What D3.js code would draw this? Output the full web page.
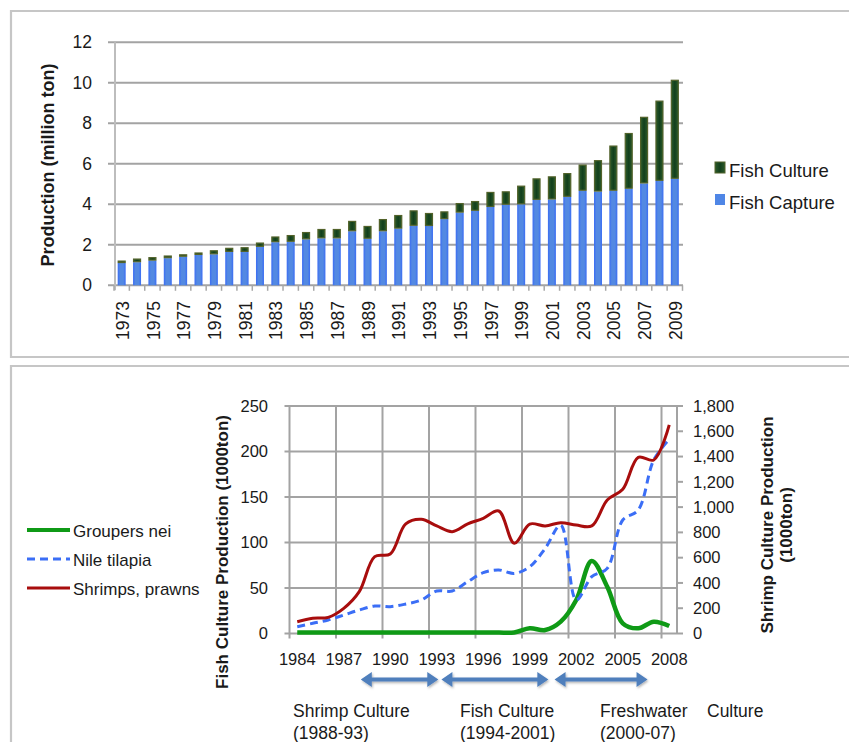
<!DOCTYPE html>
<html>
<head>
<meta charset="utf-8">
<script src="https://cdn.jsdelivr.net/npm/d3@7"></script>
<style>
  html, body { margin: 0; padding: 0; background: #fff; }
  svg { display: block; font-family: "Liberation Sans", Arial, Helvetica, sans-serif; }
</style>
</head>
<body>
<svg id="chart" width="849" height="742"></svg>
<script>
// ---- Panel 1: total fishery production (million ton) ----
const prodYears = [1973, 1974, 1975, 1976, 1977, 1978, 1979, 1980, 1981, 1982,
  1983, 1984, 1985, 1986, 1987, 1988, 1989, 1990, 1991, 1992, 1993, 1994, 1995,
  1996, 1997, 1998, 1999, 2000, 2001, 2002, 2003, 2004, 2005, 2006, 2007, 2008, 2009];
const captureMt = [1.10, 1.14, 1.22, 1.34, 1.41, 1.50, 1.53, 1.65, 1.65, 1.90,
  2.13, 2.15, 2.27, 2.32, 2.32, 2.67, 2.30, 2.67, 2.80, 2.94, 2.93, 3.27, 3.59,
  3.68, 3.87, 3.98, 4.00, 4.22, 4.24, 4.37, 4.67, 4.63, 4.67, 4.77, 5.03, 5.16, 5.26];
const cultureMt = [0.12, 0.18, 0.17, 0.13, 0.12, 0.12, 0.20, 0.20, 0.23, 0.21,
  0.28, 0.33, 0.36, 0.46, 0.46, 0.51, 0.63, 0.60, 0.67, 0.76, 0.64, 0.38, 0.47,
  0.48, 0.74, 0.66, 0.92, 1.06, 1.14, 1.17, 1.29, 1.55, 2.23, 2.75, 3.29, 3.96, 4.89];
const prodTicks = [0, 2, 4, 6, 8, 10, 12];

// ---- Panel 2: aquaculture production by species (1000 ton) ----
const cultYears = [1984, 1985, 1986, 1987, 1988, 1989, 1990, 1991, 1992, 1993,
  1994, 1995, 1996, 1997, 1998, 1999, 2000, 2001, 2002, 2003, 2004, 2005, 2006, 2007, 2008];
const groupers = [1, 1, 1, 1, 1, 1, 1, 1, 1, 1, 1, 1, 1, 1, 1.2, 5.7, 3.8, 13, 36.8,
  79.7, 51.4, 11.2, 5.7, 13, 8.2];
const tilapia = [7.5, 11.2, 14.8, 20.3, 25.8, 30.2, 29.5, 32.4, 36.8, 46.7, 46.7, 57,
  66.8, 69.8, 66, 73.4, 93.6, 119, 36.8, 62.4, 71.6, 124.7, 135.7, 190.7, 213.4];
const shrimps = [93, 120, 128, 199, 331, 608, 629, 867, 904, 851, 806, 867, 911, 969,
  714, 866, 851, 877, 858, 851, 1056, 1141, 1394, 1373, 1650];
const leftTicks = [0, 50, 100, 150, 200, 250];
const rightTicks = [0, 200, 400, 600, 800, 1000, 1200, 1400, 1600, 1800];
const labelYears = [1984, 1987, 1990, 1993, 1996, 1999, 2002, 2005, 2008];
const periodNames = ["Shrimp Culture", "Fish Culture", "Freshwater"];
const periodRanges = ["(1988-93)", "(1994-2001)", "(2000-07)"];
const periodFrom = [1988.1, 1993.3, 2000.6];
const periodTo = [1993.1, 2000.2, 2006.6];

const svg = d3.select("#chart");
const defs = svg.append("defs");
const txt = "#1a1a1a";
const gridCol = "#a3a3a3";

// bar fills
const gBlue = defs.append("linearGradient").attr("id", "capFill")
  .attr("x1", "0").attr("x2", "1").attr("y1", "0").attr("y2", "0");
[["0%", "#3a6cf4"], ["30%", "#5389e2"], ["70%", "#5389e2"], ["100%", "#3a6cf4"]]
  .forEach(([o, c]) => gBlue.append("stop").attr("offset", o).attr("stop-color", c));
const gGreen = defs.append("linearGradient").attr("id", "culFill")
  .attr("x1", "0").attr("x2", "1").attr("y1", "0").attr("y2", "0");
[["0%", "#2c5a2a"], ["50%", "#123f1c"], ["100%", "#2c5a2a"]]
  .forEach(([o, c]) => gGreen.append("stop").attr("offset", o).attr("stop-color", c));
const shadow = defs.append("filter").attr("id", "soft").attr("x", "-20%").attr("y", "-50%")
  .attr("width", "140%").attr("height", "200%");
shadow.append("feDropShadow").attr("dx", 1).attr("dy", 1.5).attr("stdDeviation", 1.2)
  .attr("flood-color", "#000").attr("flood-opacity", 0.3);

// panel frames
svg.append("path").attr("d", "M860,11 H11 V357 H860")
  .attr("fill", "none").attr("stroke", "#c6c6c6").attr("stroke-width", 2.2);
svg.append("path").attr("d", "M860,366 H11 V760")
  .attr("fill", "none").attr("stroke", "#c6c6c6").attr("stroke-width", 2.2);

// ================= Panel 1 =================
const x1 = d3.scaleBand().domain(prodYears).range([114, 682.5])
  .paddingInner(0.48).paddingOuter(0.24);
const y1 = d3.scaleLinear().domain([0, 12]).range([285.3, 42.3]);
const step1 = x1.step();
const p1 = svg.append("g");

// horizontal grid
p1.append("g").selectAll("line").data(prodTicks).join("line")
  .attr("x1", 108).attr("x2", 683)
  .attr("y1", d => y1(d)).attr("y2", d => y1(d))
  .attr("stroke", gridCol).attr("stroke-width", 2);
// value axis line
p1.append("line").attr("x1", 115).attr("x2", 115)
  .attr("y1", y1(12)).attr("y2", y1(0) + 5)
  .attr("stroke", "#bdbdbd").attr("stroke-width", 2);
// category tick marks at band edges
p1.append("g").selectAll("line").data(d3.range(prodYears.length + 1)).join("line")
  .attr("x1", i => 114 + i * step1).attr("x2", i => 114 + i * step1)
  .attr("y1", y1(0)).attr("y2", y1(0) + 5.5)
  .attr("stroke", "#a8a8a8").attr("stroke-width", 1.5);

// stacked bars
const stacked = d3.stack().keys(["capture", "culture"])(
  prodYears.map((yr, i) => ({ year: yr, capture: captureMt[i], culture: cultureMt[i] })));
p1.append("g").selectAll("rect").data(stacked[0]).join("rect")
  .attr("x", d => x1(d.data.year)).attr("width", x1.bandwidth())
  .attr("y", d => y1(d[1])).attr("height", d => y1(d[0]) - y1(d[1]))
  .attr("fill", "url(#capFill)");
p1.append("g").selectAll("rect").data(stacked[1]).join("rect")
  .attr("x", d => x1(d.data.year) + 0.5).attr("width", x1.bandwidth() - 1)
  .attr("y", d => y1(d[1]) + 0.5).attr("height", d => Math.max(0, y1(d[0]) - y1(d[1]) - 1))
  .attr("fill", "url(#culFill)").attr("stroke", "#52622a").attr("stroke-width", 1.2);

// tick labels
p1.append("g").selectAll("text").data(prodTicks).join("text")
  .attr("x", 92).attr("y", d => y1(d)).attr("dy", "0.35em")
  .attr("text-anchor", "end").attr("font-size", 17.5).attr("fill", txt)
  .text(d => d);
p1.append("g").selectAll("text").data(prodYears.filter((d, i) => i % 2 === 0)).join("text")
  .attr("transform", d => `translate(${x1(d) + x1.bandwidth() / 2 + 1},301) rotate(-90)`)
  .attr("dy", "0.35em").attr("text-anchor", "end")
  .attr("font-size", 17.5).attr("fill", txt).text(d => d);
p1.append("text")
  .attr("transform", "translate(54,165) rotate(-90)")
  .attr("text-anchor", "middle").attr("font-size", 18).attr("font-weight", "bold")
  .attr("fill", txt).text("Production (million ton)");

// legend
const leg1 = [["Fish Culture", "url(#culFill)", "#52622a"], ["Fish Capture", "#4f86e6", "none"]];
leg1.forEach(([name, fill, stroke], i) => {
  const ly = 167 + i * 32;
  p1.append("rect").attr("x", 715).attr("y", ly - 5).attr("width", 10).attr("height", 11)
    .attr("fill", fill).attr("stroke", stroke).attr("stroke-width", 1);
  p1.append("text").attr("x", 729).attr("y", ly + 10).attr("font-size", 18.5)
    .attr("fill", txt).text(name);
});

// ================= Panel 2 =================
const x2 = d3.scaleBand().domain(cultYears).range([289.5, 677]);
const xc = d3.scaleLinear().domain([1983.5, 2008.5]).range([289.5, 677]);
const yL = d3.scaleLinear().domain([0, 250]).range([633.5, 406]);
const yR = d3.scaleLinear().domain([0, 1800]).range([633.5, 406]);
const p2 = svg.append("g");

// horizontal grid (left axis)
p2.append("g").selectAll("line").data(leftTicks).join("line")
  .attr("x1", 284.5).attr("x2", 677)
  .attr("y1", d => yL(d)).attr("y2", d => yL(d))
  .attr("stroke", gridCol).attr("stroke-width", 2);
// vertical grid every third year, with tick below
p2.append("g").selectAll("line").data(labelYears).join("line")
  .attr("x1", d => x2(d)).attr("x2", d => x2(d))
  .attr("y1", yL(250)).attr("y2", yL(0) + 5)
  .attr("stroke", gridCol).attr("stroke-width", 2);
// secondary axis line and ticks
p2.append("line").attr("x1", 677).attr("x2", 677).attr("y1", yR(1800)).attr("y2", yR(0))
  .attr("stroke", gridCol).attr("stroke-width", 2);
p2.append("g").selectAll("line").data(rightTicks).join("line")
  .attr("x1", 677).attr("x2", 683)
  .attr("y1", d => yR(d)).attr("y2", d => yR(d))
  .attr("stroke", gridCol).attr("stroke-width", 2);

// axis labels
p2.append("g").selectAll("text").data(leftTicks).join("text")
  .attr("x", 268).attr("y", d => yL(d)).attr("dy", "0.35em")
  .attr("text-anchor", "end").attr("font-size", 16.5).attr("fill", txt).text(d => d);
p2.append("g").selectAll("text").data(rightTicks).join("text")
  .attr("x", 693).attr("y", d => yR(d)).attr("dy", "0.35em")
  .attr("text-anchor", "start").attr("font-size", 16.5).attr("fill", txt)
  .text(d => d3.format(",")(d));
p2.append("g").selectAll("text").data(labelYears).join("text")
  .attr("x", d => x2(d) + x2.bandwidth() / 2).attr("y", 665)
  .attr("text-anchor", "middle").attr("font-size", 16.5).attr("fill", txt).text(d => d);
p2.append("text")
  .attr("transform", "translate(228,552) rotate(-90)")
  .attr("text-anchor", "middle").attr("font-size", 17).attr("font-weight", "bold")
  .attr("fill", txt).text("Fish Culture Production (1000ton)");
p2.append("text")
  .attr("transform", "translate(773,525) rotate(-90)")
  .attr("text-anchor", "middle").attr("font-size", 17).attr("font-weight", "bold")
  .attr("fill", txt).text("Shrimp Culture Production");
p2.append("text")
  .attr("transform", "translate(792,525) rotate(-90)")
  .attr("text-anchor", "middle").attr("font-size", 17).attr("font-weight", "bold")
  .attr("fill", txt).text("(1000ton)");

// species lines
const cx = d => x2(d) + x2.bandwidth() / 2;
const lineL = d3.line().x((d, i) => cx(cultYears[i])).y(d => yL(d)).curve(d3.curveCatmullRom.alpha(0.5));
const lineR = d3.line().x((d, i) => cx(cultYears[i])).y(d => yR(d)).curve(d3.curveCatmullRom.alpha(0.5));
const series = [
  { name: "Groupers nei", values: groupers, gen: lineL, color: "#0f9a16", width: 4.5, dash: null },
  { name: "Nile tilapia", values: tilapia, gen: lineL, color: "#3b6ef6", width: 3, dash: "8,5" },
  { name: "Shrimps, prawns", values: shrimps, gen: lineR, color: "#a80d0d", width: 3, dash: null }
];
series.forEach(s => {
  p2.append("path").attr("d", s.gen(s.values))
    .attr("fill", "none").attr("stroke", s.color).attr("stroke-width", s.width)
    .attr("stroke-dasharray", s.dash).attr("stroke-linejoin", "round");
});

// legend
series.forEach((s, i) => {
  const ly = 530 + i * 29;
  p2.append("line").attr("x1", 27).attr("x2", 70).attr("y1", ly).attr("y2", ly)
    .attr("stroke", s.color).attr("stroke-width", i === 0 ? 4 : 3).attr("stroke-dasharray", s.dash);
  p2.append("text").attr("x", 73).attr("y", ly + 6.5).attr("font-size", 17)
    .attr("fill", txt).text(s.name);
});

// period arrows
const arrowCol = "#4f7fbc";
const ay = 679.5;
periodFrom.forEach((f, i) => {
  const xa = xc(f), xb = xc(periodTo[i]);
  const hl = 11, hh = 7.5, sw = 2;
  const d = `M${xa},${ay} L${xa + hl},${ay - hh} L${xa + hl},${ay - sw} L${xb - hl},${ay - sw}` +
    ` L${xb - hl},${ay - hh} L${xb},${ay} L${xb - hl},${ay + hh} L${xb - hl},${ay + sw}` +
    ` L${xa + hl},${ay + sw} L${xa + hl},${ay + hh} Z`;
  p2.append("path").attr("d", d).attr("fill", arrowCol).attr("filter", "url(#soft)");
});

// period captions
const capX = [293, 460, 600];
periodNames.forEach((n, i) => {
  p2.append("text").attr("x", capX[i]).attr("y", 717).attr("font-size", 17.5)
    .attr("fill", txt).text(n);
  p2.append("text").attr("x", capX[i]).attr("y", 739).attr("font-size", 17.5)
    .attr("fill", txt).text(periodRanges[i]);
});
p2.append("text").attr("x", 707).attr("y", 717).attr("font-size", 17.5)
  .attr("fill", txt).text("Culture");
</script>
</body>
</html>
